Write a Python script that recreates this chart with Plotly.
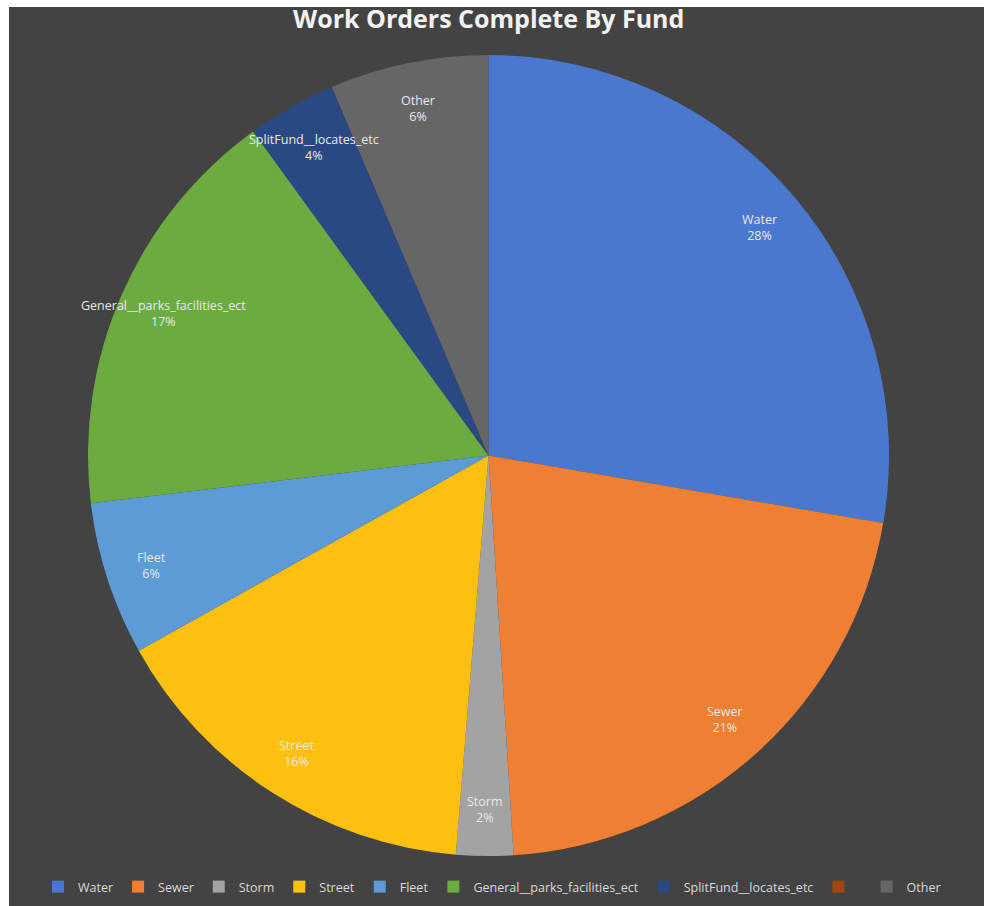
import math
import plotly.graph_objects as go

# ---- data ----
labels = ["Water", "Sewer", "Storm", "Street", "Fleet",
          "General__parks_facilities_ect", "SplitFund__locates_etc", " ", "Other"]
values = [27.7, 21.3, 2.3, 15.6, 6.2, 16.9, 3.6, 0, 6.4]
colors = ["#4a78cf", "#ef7f32", "#a3a3a3", "#fdc010", "#5c9bd6",
          "#6cab42", "#2a4883", "#9e480e", "#666666"]
title_text = "Work Orders Complete By Fund"

W, H = 984, 906
# pie geometry (pixels)
x0, x1 = 88, 889
y0, y1 = 55, 856
cx = (x0 + x1) / 2
cy = (y0 + y1) / 2
R = (x1 - x0) / 2

fig = go.Figure()
fig.add_trace(go.Pie(
    labels=labels, values=values, sort=False, direction="clockwise", rotation=0,
    marker=dict(colors=colors, line=dict(width=0)),
    textinfo="none", hoverinfo="label+percent",
    domain=dict(x=[x0 / W, x1 / W], y=[1 - y1 / H, 1 - y0 / H]),
    showlegend=True,
))

# labels at inside-end positions computed from the data
total = sum(values)
cum = 0.0
annotations = []
for lab, v in zip(labels, values):
    if v > 0:
        mid = (cum + v / 2) / total * 2 * math.pi
        r = R * 0.885
        px = cx + r * math.sin(mid)
        py = cy - r * math.cos(mid)
        pct = round(v / total * 100)
        annotations.append(dict(
            x=px / W, y=1 - py / H, xref="paper", yref="paper",
            text=f"{lab}<br>{pct}%", showarrow=False,
            font=dict(family="Open Sans", size=12.5, color="#e8e8e8"),
            align="center", xanchor="center", yanchor="middle"))
    cum += v

annotations.append(dict(
    x=0.496, y=1 - 18 / H, xref="paper", yref="paper", text=f"<b>{title_text}</b>",
    showarrow=False, font=dict(family="Open Sans", size=25, color="#f2f2f2"),
    xanchor="center", yanchor="middle"))

fig.update_layout(
    width=W, height=H,
    margin=dict(l=0, r=0, t=0, b=0),
    paper_bgcolor="white",
    shapes=[dict(type="rect", xref="paper", yref="paper",
                 x0=9 / W, x1=1, y0=0, y1=1 - 7 / H,
                 fillcolor="#434343", line=dict(width=0), layer="below")],
    annotations=annotations,
    legend=dict(orientation="h", x=0.5, xanchor="center", y=1 - 887 / H, yanchor="middle",
                font=dict(family="Open Sans", size=12.5, color="#d9d9d9"),
                bgcolor="rgba(0,0,0,0)", itemwidth=30, tracegroupgap=0),
)

fig.write_html("out.html")
